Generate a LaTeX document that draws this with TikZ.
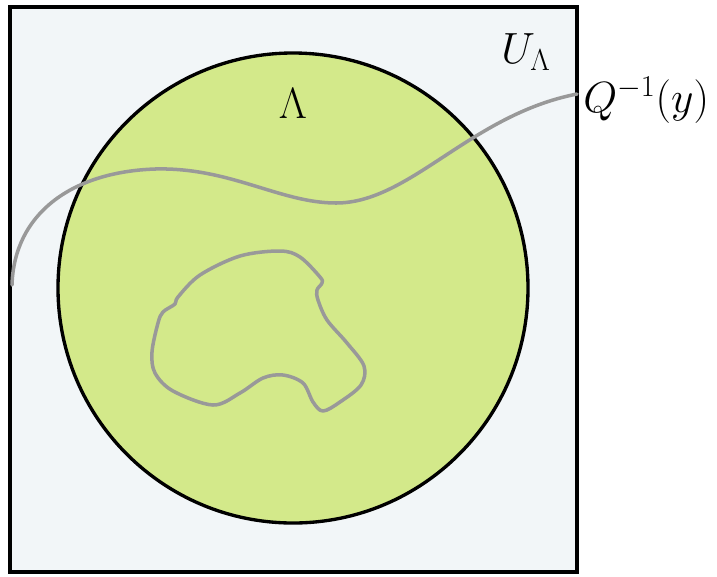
\documentclass[tikz,border=0pt]{standalone}
\usepackage{amsmath}
\definecolor{setbg}{HTML}{F2F6F8}
\definecolor{lamgreen}{HTML}{D3E98A}
\definecolor{curvegray}{HTML}{999999}
\tikzset{
  curve/.style={curvegray, line width=2pt, line cap=round, line join=round},
  lbl/.style={font=\fontsize{26}{30}\selectfont, inner sep=0pt}
}
\begin{document}
\begin{tikzpicture}[x=0.02cm, y=-0.02cm]
\useasboundingbox (0,0) rectangle (717,576);
% U_Lambda
\draw[fill=setbg, line width=2.4pt] (10,7) rectangle (577,572);
% Lambda
\draw[fill=lamgreen, line width=1.9pt] (293,288) circle[radius=235];
% level set
\draw[curve] (12,285) .. controls (14,215) and (70,172) .. (155,169)
  .. controls (230,167) and (280,203) .. (336,203)
  .. controls (410,203) and (470,115) .. (577,94);
\draw[curve] plot[smooth cycle, tension=0.55] coordinates {
  (163,312) (175,304) (178,297) (200,275) (240,256) (280,251) (300,257)
  (320,277) (322,283) (317,290) (318,300) (327,320) (347,343) (364,366)
  (361,385) (340,402) (323,411) (313,402) (303,383) (283,375) (263,378)
  (240,393) (213,405) (173,391) (155,373) (152,352) (158,323)};
% labels
\node[lbl] (lam) at (293,104) {$\Lambda$};
\node[lbl] (ulam) at (526,52) {$U_\Lambda$};
\node[lbl, anchor=west] (qinv) at (583,100) {$Q^{-1}(y)$};
\end{tikzpicture}
\end{document}
